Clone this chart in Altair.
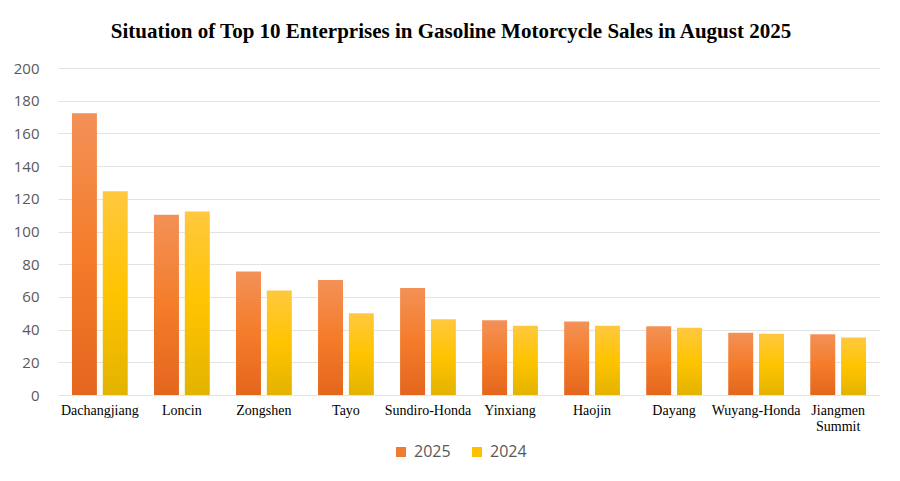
import altair as alt
import pandas as pd

companies = ["Dachangjiang", "Loncin", "Zongshen", "Tayo", "Sundiro-Honda",
             "Yinxiang", "Haojin", "Dayang", "Wuyang-Honda", "Jiangmen Summit"]
sales_2025 = [172.3, 110.2, 75.5, 70.4, 65.5, 45.7, 44.9, 42.0, 38.0, 37.1]
sales_2024 = [124.6, 112.3, 63.9, 50.0, 46.4, 42.4, 42.4, 41.2, 37.4, 35.1]
series = ["2025", "2024"]

rows = []
for c, a, b in zip(companies, sales_2025, sales_2024):
    rows.append({"company": c, "series": "2025", "value": a})
    rows.append({"company": c, "series": "2024", "value": b})
df = pd.DataFrame(rows)

grad_orange = alt.Gradient(
    gradient="linear", x1=0, x2=0, y1=0, y2=1,
    stops=[alt.GradientStop(color="#F39157", offset=0),
           alt.GradientStop(color="#F47C2A", offset=0.5),
           alt.GradientStop(color="#E4661E", offset=1)])
grad_yellow = alt.Gradient(
    gradient="linear", x1=0, x2=0, y1=0, y2=1,
    stops=[alt.GradientStop(color="#FFC83F", offset=0),
           alt.GradientStop(color="#FFC400", offset=0.5),
           alt.GradientStop(color="#E3B300", offset=1)])

x_enc = alt.X("company:N", sort=companies,
              scale=alt.Scale(paddingInner=0.32, paddingOuter=0.17),
              axis=alt.Axis(title=None, labelAngle=0, domain=False, ticks=False,
                            grid=False,
                            labelFont="Liberation Serif", labelFontSize=14,
                            labelColor="#000000", labelPadding=8,
                            labelLineHeight=16,
                            labelExpr="datum.label == 'Jiangmen Summit' ? ['Jiangmen', 'Summit'] : datum.label"))
y_enc = alt.Y("value:Q", scale=alt.Scale(domain=[0, 200]),
              axis=alt.Axis(title=None, values=list(range(0, 201, 20)),
                            domain=False, ticks=False, gridColor="#E3E3E3",
                            gridWidth=1, labelFont="Open Sans", labelFontSize=15,
                            labelColor="#595959", labelPadding=19))
xo = alt.XOffset("series:N", sort=series,
                 scale=alt.Scale(domain=series, paddingInner=0.19))

base = alt.Chart(df)
bars25 = base.transform_filter("datum.series == '2025'").mark_bar(
    fill=grad_orange).encode(x=x_enc, y=y_enc, xOffset=xo)
bars24 = base.transform_filter("datum.series == '2024'").mark_bar(
    fill=grad_yellow).encode(x=x_enc, y=y_enc, xOffset=xo)

legend_layer = base.mark_square(opacity=0, size=0).encode(
    x=x_enc, y=y_enc,
    color=alt.Color("series:N", sort=series,
                    scale=alt.Scale(domain=series, range=["#ED7D31", "#FFC000"]),
                    legend=alt.Legend(title=None, orient="none", direction="horizontal",
                                      legendX=335, legendY=376, symbolType="square",
                                      symbolSize=100, symbolOpacity=1,
                                      symbolStrokeWidth=0, columnPadding=18,
                                      labelFont="Open Sans", labelFontSize=16,
                                      labelColor="#595959", labelOffset=5)))

chart = alt.layer(bars25, bars24, legend_layer).properties(
    width=822, height=327,
    autosize=alt.AutoSizeParams(type="none"),
    padding={"left": 50, "top": 60, "right": 12, "bottom": 70},
    title=alt.TitleParams(
        "Situation of Top 10 Enterprises in Gasoline Motorcycle Sales in August 2025",
        font="Liberation Serif", fontSize=21, fontWeight="bold", color="#000000",
        anchor="middle", dx=-18, offset=19),
).configure(background="#FFFFFF").configure_view(strokeWidth=0, stroke="transparent")

chart.save("out.html", embed_options={"renderer": "svg", "actions": False})
